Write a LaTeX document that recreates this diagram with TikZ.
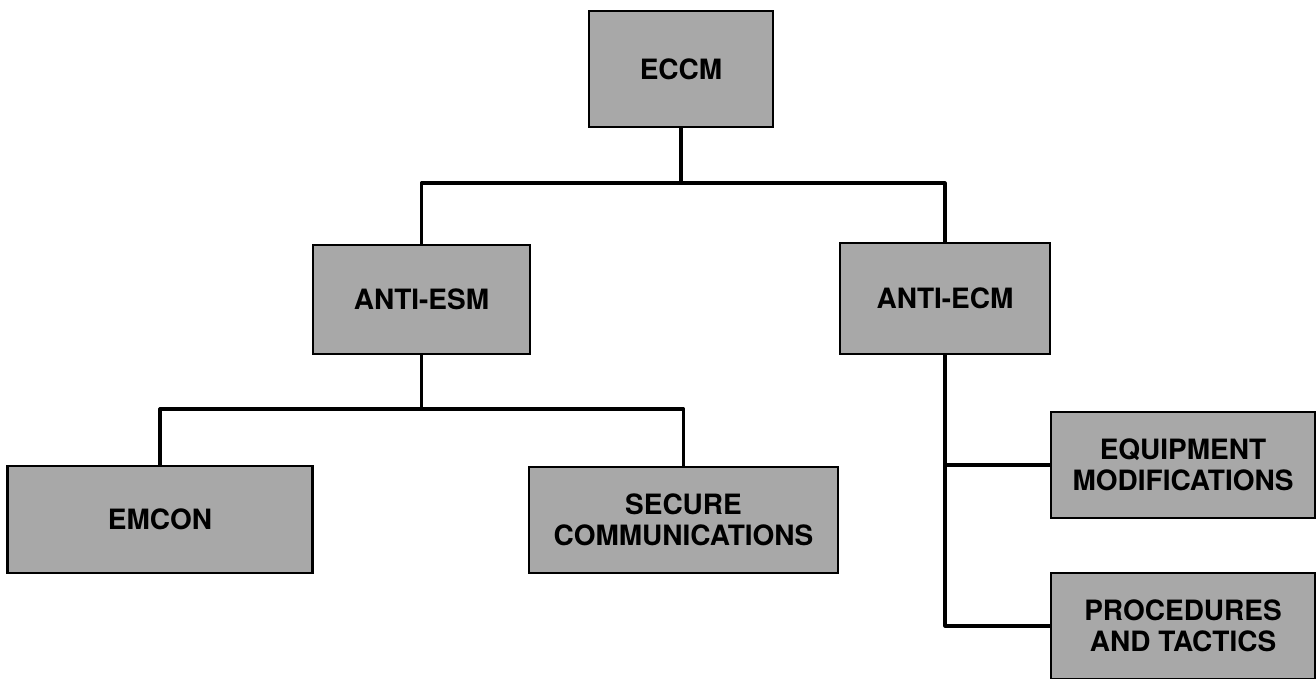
\documentclass[tikz,border=0pt]{standalone}
\usepackage{fontspec}
\setmainfont{TeX Gyre Heros}
\definecolor{boxgray}{RGB}{168,168,168}
\begin{document}
\begin{tikzpicture}[x=1pt,y=-1pt,
  blk/.style={draw=black, line width=2.2pt, fill=boxgray, rectangle, inner sep=0pt,
    align=center, font=\fontsize{28}{31}\selectfont\bfseries},
  wire/.style={draw=black, line width=3.2pt, line join=round}]
\clip (0,0) rectangle (1316,679);
\useasboundingbox (0,0) rectangle (1316,679);
\node[blk, minimum width=184pt, minimum height=116pt] (eccm) at (681,69) {ECCM};
\node[blk, minimum width=217pt, minimum height=109pt] (esm) at (421.5,299.5) {ANTI-ESM};
\node[blk, minimum width=210pt, minimum height=111pt] (ecm) at (945,298.5) {ANTI-ECM};
\node[blk, minimum width=305pt, minimum height=107pt] (emcon) at (160,519.5) {EMCON};
\node[blk, minimum width=309pt, minimum height=106pt] (sec) at (683.5,520) {SECURE\\COMMUNICATIONS};
\node[blk, minimum width=264pt, minimum height=106pt] (equip) at (1183,465) {EQUIPMENT\\MODIFICATIONS};
\node[blk, minimum width=264pt, minimum height=106pt] (proc) at (1183,626) {PROCEDURES\\AND TACTICS};
\coordinate (bus1) at (0,183);
\coordinate (bus2) at (0,409);
\draw[wire] (eccm.south) -- (eccm.south |- bus1);
\draw[wire] (esm.north) |- (bus1 -| ecm.north) -- (ecm.north);
\draw[wire] (esm.south) -- (esm.south |- bus2);
\draw[wire] (emcon.north) |- (bus2 -| sec.north) -- (sec.north);
\draw[wire] (ecm.south) |- (proc.west);
\draw[wire] (ecm.south |- equip.west) -- (equip.west);
\end{tikzpicture}
\end{document}
